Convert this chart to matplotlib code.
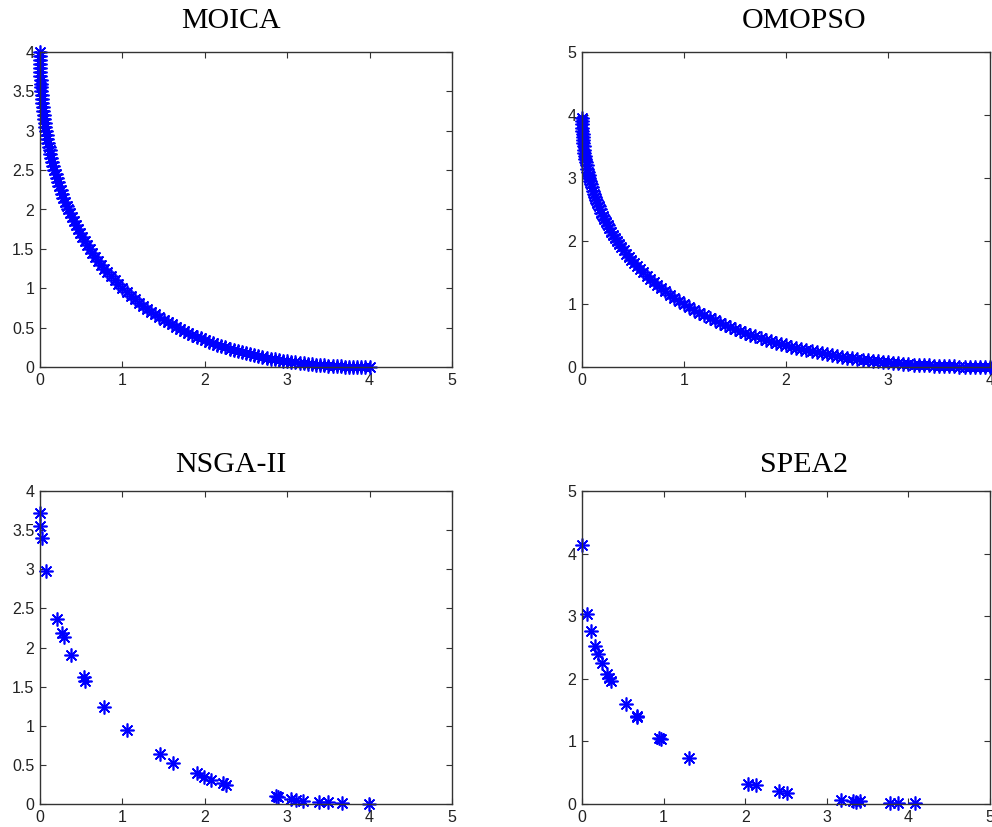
import matplotlib
matplotlib.use("Agg")
from matplotlib import pyplot as plt
from matplotlib.ticker import FuncFormatter

# Pareto fronts
moica_x = [0.0, 0.0002, 0.0006, 0.0014, 0.0026, 0.0040, 0.0059, 0.0080, 0.0105, 0.0134,
           0.0167, 0.0203, 0.0244, 0.0288, 0.0336, 0.0389, 0.0446, 0.0507, 0.0573, 0.0643,
           0.0718, 0.0798, 0.0883, 0.0972, 0.1067, 0.1168, 0.1273, 0.1385, 0.1502, 0.1625,
           0.1755, 0.1890, 0.2032, 0.2181, 0.2337, 0.25, 0.2671, 0.2849, 0.3035, 0.3229,
           0.3431, 0.3643, 0.3864, 0.4094, 0.4335, 0.4585, 0.4847, 0.5119, 0.5404, 0.5700,
           0.6011, 0.6334, 0.6672, 0.7024, 0.7393, 0.7779, 0.8183, 0.8605, 0.9048, 0.9512,
           1.0, 1.05, 1.1, 1.15, 1.2, 1.25, 1.3, 1.35, 1.4, 1.45,
           1.5, 1.55, 1.6, 1.65, 1.7, 1.75, 1.8, 1.85, 1.9, 1.95,
           2.0, 2.05, 2.1, 2.15, 2.2, 2.25, 2.3, 2.35, 2.4, 2.45,
           2.5, 2.55, 2.6, 2.65, 2.7, 2.75, 2.8, 2.85, 2.9, 2.95,
           3.0, 3.05, 3.1, 3.15, 3.2, 3.25, 3.3, 3.35, 3.4, 3.45,
           3.5, 3.55, 3.6, 3.65, 3.7, 3.75, 3.8, 3.85, 3.9, 3.95,
           4.0]
moica_y = [4.0, 3.95, 3.9, 3.85, 3.8, 3.75, 3.7, 3.65, 3.6, 3.55,
           3.5, 3.45, 3.4, 3.35, 3.3, 3.25, 3.2, 3.15, 3.1, 3.05,
           3.0, 2.95, 2.9, 2.85, 2.8, 2.75, 2.7, 2.65, 2.6, 2.55,
           2.5, 2.45, 2.4, 2.35, 2.3, 2.25, 2.2, 2.15, 2.1, 2.05,
           2.0, 1.95, 1.9, 1.85, 1.8, 1.75, 1.7, 1.65, 1.6, 1.55,
           1.5, 1.45, 1.4, 1.35, 1.3, 1.25, 1.2, 1.15, 1.1, 1.05,
           1.0, 0.9512, 0.9048, 0.8605, 0.8183, 0.7779, 0.7393, 0.7024, 0.6672, 0.6334,
           0.6011, 0.5700, 0.5404, 0.5119, 0.4847, 0.4585, 0.4335, 0.4094, 0.3864, 0.3643,
           0.3431, 0.3229, 0.3035, 0.2849, 0.2671, 0.25, 0.2337, 0.2181, 0.2032, 0.1890,
           0.1755, 0.1625, 0.1502, 0.1385, 0.1273, 0.1168, 0.1067, 0.0972, 0.0883, 0.0798,
           0.0718, 0.0643, 0.0573, 0.0507, 0.0446, 0.0389, 0.0336, 0.0288, 0.0244, 0.0203,
           0.0167, 0.0134, 0.0105, 0.0080, 0.0059, 0.0040, 0.0026, 0.0014, 0.0006, 0.0002,
           0.0]

omopso_x = [0.0002, 0.0006, 0.0014, 0.0026, 0.0040, 0.0059, 0.0080, 0.0105, 0.0134,
            0.0167, 0.0203, 0.0244, 0.0288, 0.0336, 0.0389, 0.0446, 0.0507, 0.0573, 0.0643,
            0.0718, 0.0798, 0.0883, 0.0972, 0.1067, 0.1168, 0.1273, 0.1385, 0.1502, 0.1625,
            0.1755, 0.1890, 0.2032, 0.2181, 0.2337, 0.25, 0.2671, 0.2849, 0.3035, 0.3229,
            0.3431, 0.3643, 0.3864, 0.4094, 0.4335, 0.4585, 0.4847, 0.5119, 0.5404, 0.5700,
            0.6011, 0.6334, 0.6672, 0.7024, 0.7393, 0.7779, 0.8183, 0.8605, 0.9048, 0.9512,
            1.0, 1.05, 1.1, 1.15, 1.2, 1.25, 1.3, 1.35, 1.4, 1.45,
            1.5, 1.55, 1.6, 1.65, 1.7, 1.75, 1.8, 1.85, 1.9, 1.95,
            2.0, 2.05, 2.1, 2.15, 2.2, 2.25, 2.3, 2.35, 2.4, 2.45,
            2.5, 2.55, 2.6, 2.65, 2.7, 2.75, 2.8, 2.85, 2.9, 2.95,
            3.0, 3.05, 3.1, 3.15, 3.2, 3.25, 3.3, 3.35, 3.4, 3.45,
            3.5, 3.55, 3.6, 3.65, 3.7, 3.75, 3.8, 3.85, 3.9, 3.95,
            4.0, 4.05]
omopso_y = [3.95, 3.9, 3.85, 3.8, 3.75, 3.7, 3.65, 3.6, 3.55,
            3.5, 3.45, 3.4, 3.35, 3.3, 3.25, 3.2, 3.15, 3.1, 3.05,
            3.0, 2.95, 2.9, 2.85, 2.8, 2.75, 2.7, 2.65, 2.6, 2.55,
            2.5, 2.45, 2.4, 2.35, 2.3, 2.25, 2.2, 2.15, 2.1, 2.05,
            2.0, 1.95, 1.9, 1.85, 1.8, 1.75, 1.7, 1.65, 1.6, 1.55,
            1.5, 1.45, 1.4, 1.35, 1.3, 1.25, 1.2, 1.15, 1.1, 1.05,
            1.0, 0.9512, 0.9048, 0.8605, 0.8183, 0.7779, 0.7393, 0.7024, 0.6672, 0.6334,
            0.6011, 0.5700, 0.5404, 0.5119, 0.4847, 0.4585, 0.4335, 0.4094, 0.3864, 0.3643,
            0.3431, 0.3229, 0.3035, 0.2849, 0.2671, 0.25, 0.2337, 0.2181, 0.2032, 0.1890,
            0.1755, 0.1625, 0.1502, 0.1385, 0.1273, 0.1168, 0.1067, 0.0972, 0.0883, 0.0798,
            0.0718, 0.0643, 0.0573, 0.0507, 0.0446, 0.0389, 0.0336, 0.0288, 0.0244, 0.0203,
            0.0167, 0.0134, 0.0105, 0.0080, 0.0059, 0.0040, 0.0026, 0.0014, 0.0006, 0.0002,
            0.0, 0.0]

nsga_x = [0.0, 0.0, 0.02, 0.07, 0.21, 0.27, 0.29, 0.38, 0.53, 0.55,
          0.78, 1.06, 1.46, 1.62, 1.90, 1.99, 2.08, 2.22, 2.26, 2.87,
          2.89, 3.05, 3.11, 3.19, 3.38, 3.49, 3.66, 3.99]
nsga_y = [3.72, 3.55, 3.40, 2.98, 2.37, 2.18, 2.13, 1.90, 1.62, 1.57,
          1.24, 0.95, 0.64, 0.52, 0.39, 0.34, 0.31, 0.27, 0.24, 0.10,
          0.09, 0.06, 0.05, 0.04, 0.03, 0.03, 0.01, 0.0]

spea_x = [0.0, 0.06, 0.11, 0.16, 0.20, 0.25, 0.31, 0.33, 0.35, 0.54,
          0.67, 0.68, 0.94, 0.97, 1.31, 2.03, 2.13, 2.41, 2.51, 3.17,
          3.32, 3.36, 3.41, 3.77, 3.87, 4.08]
spea_y = [4.14, 3.03, 2.76, 2.53, 2.40, 2.25, 2.08, 2.02, 1.96, 1.59,
          1.39, 1.40, 1.06, 1.04, 0.73, 0.32, 0.30, 0.20, 0.18, 0.06,
          0.04, 0.03, 0.04, 0.01, 0.01, 0.01]

titles = ["MOICA", "OMOPSO", "NSGA-II", "SPEA2"]


def makeGraph(ax, x, y, xmax, ymax, ystep):
    ax.plot(x, y, linestyle="none", marker=(8, 2, 0), markersize=10,
            markeredgewidth=1.2, color="#0000ff", clip_on=False)
    ax.set_xlim(0, xmax)
    ax.set_ylim(0, ymax)
    ax.set_xticks([i for i in range(int(xmax) + 1)])
    ax.set_yticks([i * ystep for i in range(int(ymax / ystep) + 1)])
    fmt = FuncFormatter(lambda v, pos: "%g" % v)
    ax.xaxis.set_major_formatter(fmt)
    ax.yaxis.set_major_formatter(fmt)
    ax.tick_params(direction="in", top=True, right=True, length=4,
                   width=0.8, colors="#333333", labelsize=11.5,
                   labelcolor="#222222", pad=4)
    for s in ax.spines.values():
        s.set_color("#333333")
        s.set_linewidth(1.0)


def main():
    plt.rcParams["font.family"] = ["Liberation Sans", "DejaVu Sans"]
    fig = plt.figure(figsize=(9.92, 8.27), dpi=100)
    W, H = 992.0, 827.0

    # axes boxes in pixels: left, top, right, bottom
    boxes = [(40, 52, 452, 367), (582, 52, 990, 367),
             (40, 491, 452, 804), (582, 491, 990, 804)]
    axes = []
    for (l, t, r, b) in boxes:
        axes.append(fig.add_axes([l / W, 1 - b / H, (r - l) / W, (b - t) / H]))

    makeGraph(axes[0], moica_x, moica_y, 5, 4, 0.5)
    makeGraph(axes[1], omopso_x, omopso_y, 4, 5, 1)
    makeGraph(axes[2], nsga_x, nsga_y, 5, 4, 0.5)
    makeGraph(axes[3], spea_x, spea_y, 5, 5, 1)

    title_pos = [(231, 21), (804, 21), (231, 465), (804, 465)]
    for (tx, ty), name in zip(title_pos, titles):
        fig.text(tx / W, 1 - ty / H, name, ha="center", va="center",
                 family=["Liberation Serif", "DejaVu Serif"], fontsize=21.5)

    fig.savefig("out.png", dpi=100)


if __name__ == "__main__":
    main()
